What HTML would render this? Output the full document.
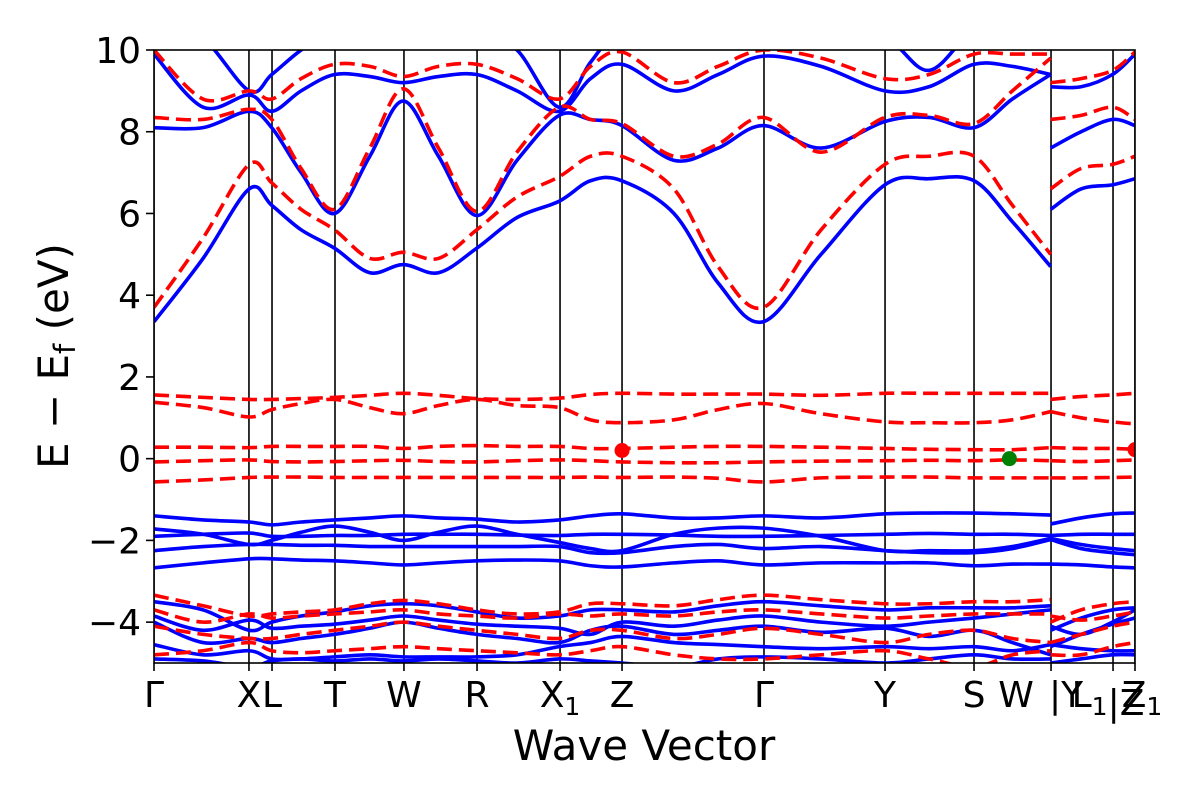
<!DOCTYPE html>
<html><head><meta charset="utf-8"><style>
body{margin:0;background:#fff;}
svg{display:block;font-family:"DejaVu Sans","Liberation Sans",sans-serif;}
</style></head><body>
<svg id="chart" width="1200" height="800">
<defs><clipPath id="clip"><rect x="154" y="50" width="981" height="613"/></clipPath></defs>
<g id="bands" clip-path="url(#clip)"></g>
<g id="axes"></g>
</svg>
<script>
const kA=[0,0.05,0.097,0.12,0.15,0.184,0.22,0.254,0.29,0.329,0.37,0.413,0.445,0.477,0.53,0.575,0.621,0.68,0.745,0.79,0.836,0.875,0.914];
const kB=[0.914,0.945,0.977,1.0];
const symK=[0,0.0968,0.1203,0.1845,0.2548,0.3293,0.4139,0.4771,0.6218,0.7452,0.8359,0.9144,0.9776,1.0];
const symLabels=["Γ","X","L","T","W","R","X|1","Z","Γ","Y","S","","",""];
const yTicks=[-4,-2,0,2,4,6,8,10];
const blueA=[
[3.35,4.9,6.6,6.2,5.6,5.15,4.55,4.75,4.55,5.15,5.9,6.3,6.8,6.8,6.0,4.3,3.35,5.0,6.7,6.85,6.8,5.8,4.7],
[8.1,8.1,8.5,8.1,7.0,6.0,7.4,8.75,7.4,5.95,7.3,8.4,8.3,8.15,7.3,7.6,8.15,7.6,8.25,8.35,8.1,8.8,9.4],
[9.9,8.6,8.9,8.5,9.0,9.4,9.35,9.2,9.35,9.4,9.0,8.5,9.3,9.65,9.0,9.4,9.85,9.6,9.0,9.1,9.65,9.6,9.4],
[11,10.3,9.0,9.4,10,10.5,10.5,10.5,10.5,10.5,10,8.6,9.7,10.5,10.5,10.5,10.5,10.5,10.3,9.5,10.5,10.5,10.5],
[-1.4,-1.5,-1.55,-1.62,-1.55,-1.5,-1.45,-1.4,-1.45,-1.48,-1.55,-1.5,-1.4,-1.35,-1.45,-1.45,-1.4,-1.45,-1.35,-1.33,-1.33,-1.35,-1.38],
[-1.72,-1.85,-2.1,-2.0,-1.8,-1.65,-1.8,-2.0,-1.8,-1.65,-1.85,-2.05,-2.2,-2.25,-1.85,-1.7,-1.7,-1.9,-2.25,-2.25,-2.25,-2.15,-1.95],
[-1.9,-1.85,-1.82,-1.9,-1.9,-1.88,-1.88,-1.85,-1.85,-1.85,-1.87,-1.88,-1.85,-1.85,-1.87,-1.9,-1.9,-1.88,-1.85,-1.83,-1.85,-1.85,-1.88],
[-2.25,-2.15,-2.1,-2.1,-2.12,-2.12,-2.15,-2.15,-2.15,-2.15,-2.15,-2.15,-2.3,-2.3,-2.15,-2.1,-2.2,-2.15,-2.25,-2.3,-2.3,-2.2,-1.98],
[-2.67,-2.55,-2.45,-2.45,-2.48,-2.5,-2.55,-2.6,-2.55,-2.5,-2.48,-2.5,-2.62,-2.65,-2.55,-2.5,-2.6,-2.55,-2.55,-2.55,-2.62,-2.58,-2.58],
[-3.5,-3.7,-4.2,-4.0,-3.85,-3.75,-3.6,-3.55,-3.6,-3.75,-3.9,-3.85,-3.7,-3.7,-3.75,-3.6,-3.5,-3.6,-3.7,-3.65,-3.65,-3.65,-3.6],
[-3.85,-4.2,-3.95,-4.15,-4.1,-4.05,-3.95,-3.85,-3.95,-4.05,-4.1,-4.15,-4.3,-4.0,-4.1,-3.95,-3.85,-4.0,-4.1,-4.0,-3.9,-3.8,-3.7],
[-4.0,-4.5,-4.4,-4.5,-4.4,-4.3,-4.15,-4.0,-4.15,-4.3,-4.4,-4.5,-4.2,-4.1,-4.3,-4.2,-4.1,-4.25,-4.15,-4.35,-4.2,-4.5,-4.8],
[-4.55,-4.8,-4.7,-4.9,-4.9,-4.85,-4.8,-4.85,-4.85,-4.85,-4.8,-4.6,-4.5,-4.35,-4.5,-4.55,-4.6,-4.65,-4.6,-4.65,-4.6,-4.7,-4.55],
[-4.9,-4.95,-5.1,-4.95,-4.9,-4.95,-4.9,-4.95,-4.9,-4.95,-5.0,-4.9,-4.95,-5.0,-5.1,-4.9,-4.85,-4.9,-5.0,-4.9,-4.8,-4.9,-4.9]];
const blueB=[[6.1,6.6,6.7,6.85],[7.6,8.0,8.3,8.15],[9.1,9.1,9.4,9.9],[10.5,10.5,10.5,10.5],[-1.6,-1.45,-1.35,-1.33],[-1.95,-2.1,-2.2,-2.25],[-1.88,-1.85,-1.85,-1.85],[-1.98,-2.2,-2.3,-2.35],[-2.58,-2.6,-2.65,-2.67],[-4.2,-3.9,-3.7,-3.65],[-4.1,-4.3,-4.0,-3.7],[-4.6,-4.3,-4.05,-3.9],[-4.55,-4.65,-4.7,-4.7],[-5,-4.9,-4.8,-4.8]];
const redA=[
[3.7,5.4,7.2,6.75,6.1,5.6,4.9,5.05,4.9,5.6,6.4,6.9,7.4,7.4,6.6,4.7,3.7,5.6,7.2,7.4,7.4,6.2,5.0],
[8.35,8.3,8.55,8.3,7.1,6.1,7.6,9.05,7.6,6.05,7.5,8.6,8.3,8.2,7.4,7.7,8.35,7.5,8.35,8.4,8.2,9.0,9.8],
[10.0,8.8,9.0,8.8,9.3,9.65,9.6,9.35,9.6,9.65,9.3,8.8,9.6,9.95,9.2,9.6,10.0,9.8,9.3,9.4,9.9,9.9,9.9],
[1.56,1.5,1.45,1.45,1.47,1.5,1.55,1.6,1.55,1.47,1.45,1.48,1.57,1.6,1.58,1.58,1.58,1.55,1.6,1.6,1.6,1.6,1.6],
[1.38,1.25,1.02,1.2,1.35,1.45,1.25,1.1,1.3,1.45,1.3,1.25,0.95,0.88,0.95,1.2,1.35,1.1,0.9,0.88,0.88,0.95,1.15],
[0.28,0.28,0.27,0.3,0.3,0.3,0.3,0.25,0.3,0.32,0.3,0.3,0.25,0.25,0.28,0.3,0.3,0.28,0.25,0.23,0.22,0.22,0.27],
[-0.08,-0.05,-0.03,-0.07,-0.08,-0.07,-0.05,-0.04,-0.07,-0.08,-0.05,-0.03,-0.05,-0.08,-0.1,-0.1,-0.08,-0.06,-0.05,-0.04,-0.05,-0.03,-0.05],
[-0.57,-0.52,-0.46,-0.45,-0.45,-0.46,-0.46,-0.46,-0.46,-0.46,-0.46,-0.46,-0.45,-0.46,-0.45,-0.48,-0.57,-0.47,-0.45,-0.45,-0.47,-0.47,-0.47],
[-3.34,-3.6,-3.85,-3.8,-3.75,-3.7,-3.55,-3.47,-3.55,-3.7,-3.8,-3.75,-3.55,-3.55,-3.6,-3.45,-3.34,-3.45,-3.55,-3.55,-3.5,-3.5,-3.45],
[-3.7,-4.0,-3.8,-3.9,-3.85,-3.8,-3.75,-3.7,-3.8,-3.85,-3.9,-3.8,-3.85,-3.8,-3.85,-3.75,-3.7,-3.8,-3.9,-3.85,-3.8,-3.8,-3.8],
[-4.1,-4.3,-4.4,-4.4,-4.3,-4.2,-4.1,-4.0,-4.1,-4.2,-4.3,-4.4,-4.2,-4.2,-4.4,-4.3,-4.15,-4.3,-4.5,-4.3,-4.2,-4.4,-4.5],
[-4.8,-4.7,-4.5,-4.7,-4.75,-4.7,-4.65,-4.6,-4.65,-4.7,-4.75,-4.8,-4.7,-4.6,-4.8,-4.9,-4.9,-4.8,-4.7,-4.9,-5.1,-4.8,-4.7]];
const redB=[[6.6,7.1,7.2,7.4],[8.3,8.4,8.6,8.3],[9.2,9.3,9.5,9.95],[1.45,1.52,1.56,1.6],[1.15,1.0,0.9,0.85],[0.27,0.25,0.25,0.23],[-0.05,-0.07,-0.05,-0.03],[-0.47,-0.47,-0.46,-0.45],[-4.0,-3.7,-3.55,-3.5],[-3.85,-3.95,-3.85,-3.75],[-4.5,-4.3,-4.1,-4.0],[-4.8,-4.8,-4.6,-4.5]];
const markerK=[0.4771,1.0,0.872];
const markerE=[0.2,0.22,0.0];
const markerColors=["#ff0000","#ff0000","#008000"];

const X0=154,X1=1135,Y0=663,Y1=50,EMIN=-5,EMAX=10;
const sx=k=>X0+k*(X1-X0);
const sy=e=>Y0-(e-EMIN)/(EMAX-EMIN)*(Y0-Y1);
const NS="http://www.w3.org/2000/svg";
function mk(tag,attrs,parent){const el=document.createElementNS(NS,tag);for(const a in attrs)el.setAttribute(a,attrs[a]);parent.appendChild(el);return el;}
function pathD(ks,es){
  const p=ks.map((k,i)=>[sx(k),sy(es[i])]);
  let d=`M${p[0][0]},${p[0][1]}`;
  for(let i=0;i<p.length-1;i++){
    const a=p[Math.max(i-1,0)],b=p[i],c=p[i+1],e=p[Math.min(i+2,p.length-1)];
    const c1=[b[0]+(c[0]-a[0])/6,b[1]+(c[1]-a[1])/6],c2=[c[0]-(e[0]-b[0])/6,c[1]-(e[1]-b[1])/6];
    d+=` C${c1[0]},${c1[1]} ${c2[0]},${c2[1]} ${c[0]},${c[1]}`;
  }
  return d;
}
const bands=document.getElementById('bands');
const axes=document.getElementById('axes');
symK.forEach(k=>{
  const l=mk('line',{x1:sx(k),x2:sx(k),y1:Y1,y2:Y0,stroke:'#000','stroke-width':1.6},bands);
  
  
});
function drawSet(A,B,color,dash,name){
  A.forEach((es,i)=>{
    const p=mk('path',{d:pathD(kA,es),fill:'none',stroke:color,'stroke-width':3.6},bands);
    if(dash)p.setAttribute('stroke-dasharray',dash);
    
    
    if(B[i]){
      const q=mk('path',{d:pathD(kB,B[i]),fill:'none',stroke:color,'stroke-width':3.6},bands);
      if(dash)q.setAttribute('stroke-dasharray',dash);
      
      
    }
  });
}
drawSet(blueA,blueB,'#0000ff',null,'spin-up-band');
drawSet(redA,redB,'#ff0000','15 7','spin-down-band');
markerK.forEach((k,i)=>{
  const c=mk('circle',{cx:sx(k),cy:sy(markerE[i]),r:7.5,fill:markerColors[i]},bands);
  
  
});
const fr=mk('rect',{x:X0,y:Y1,width:X1-X0,height:Y0-Y1,fill:'none',stroke:'#000','stroke-width':1.6},axes);


yTicks.forEach(v=>{
  mk('line',{x1:X0-8,x2:X0,y1:sy(v),y2:sy(v),stroke:'#000','stroke-width':1.6},axes);
  const t=mk('text',{x:X0-13,y:sy(v)+13,'text-anchor':'end','font-size':36},axes);
  t.textContent=(v<0?'\u2212'+(-v):String(v));
  
  
});
symK.forEach((k,i)=>{
  mk('line',{x1:sx(k),x2:sx(k),y1:Y0,y2:Y0+8,stroke:'#000','stroke-width':1.6},axes);
});
function xlab(x,main,sub){
  const t=mk('text',{x:x,y:707,'text-anchor':'middle','font-size':36},axes);
  
  
  main.forEach((m,j)=>{
    const a=mk('tspan',{},t);a.textContent=m;
    if(sub[j]){const s=mk('tspan',{'font-size':25,dy:8},t);s.textContent=sub[j];const r=mk('tspan',{dy:-8},t);r.textContent='';}
  });
}
symLabels.forEach((lab,i)=>{
  if(!lab)return;
  const parts=lab.split('|');
  xlab(sx(symK[i]),[parts[0]],[parts[1]||'']);
});
xlab(1016,['W'],['']);
xlab(1066,['|Y'],['']);
xlab(1108,['L','|Z'],['1','']);
xlab(1142,['Z'],['1']);
const xt=mk('text',{x:644,y:760,'text-anchor':'middle','font-size':42},axes);
xt.textContent='Wave Vector';


const yt=mk('text',{transform:'translate(68,356) rotate(-90)','text-anchor':'middle','font-size':42},axes);


const y1=mk('tspan',{},yt);y1.textContent='E \u2212 E';
const y2=mk('tspan',{'font-size':29,dy:7},yt);y2.textContent='f';
const y3=mk('tspan',{dy:-7},yt);y3.textContent=' (eV)';
</script>
</body></html>
